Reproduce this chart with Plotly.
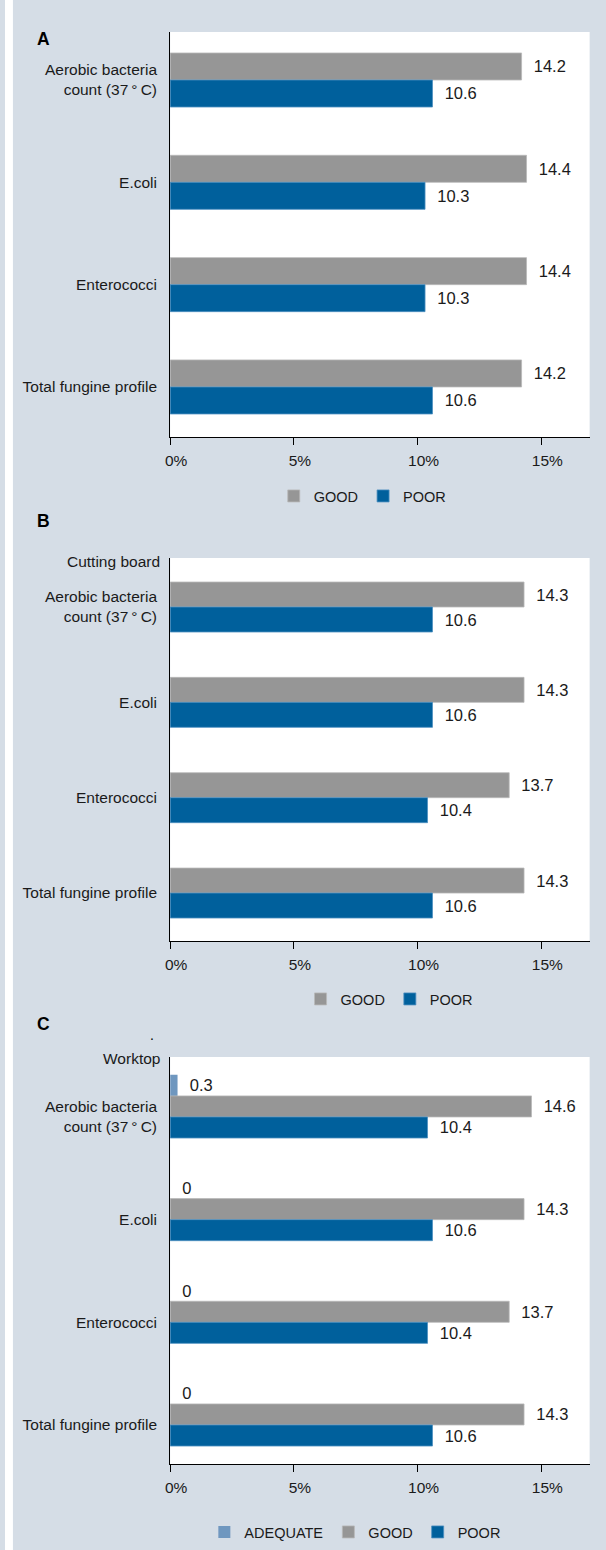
import plotly.graph_objects as go

# ---------------- data ----------------
categories = ["Aerobic bacteria<br>count (37\u2009°\u2009C)", "E.coli", "Enterococci", "Total fungine profile"]
panel_letters = ["A", "B", "C"]
panel_headers = ["", "Cutting board", "Worktop"]

a_good = [14.2, 14.4, 14.4, 14.2]
a_poor = [10.6, 10.3, 10.3, 10.6]

b_good = [14.3, 14.3, 13.7, 14.3]
b_poor = [10.6, 10.6, 10.4, 10.6]

c_adequate = [0.3, 0, 0, 0]
c_good = [14.6, 14.3, 13.7, 14.3]
c_poor = [10.4, 10.6, 10.4, 10.6]

tick_values = [0, 5, 10, 15]
tick_labels = ["0%", "5%", "10%", "15%"]

# ---------------- style ----------------
COLORS = {"ADEQUATE": "#6f97bf", "GOOD": "#969696", "POOR": "#00609c"}
EDGES = {"ADEQUATE": "#9dbad6", "GOOD": "#b9b9b9", "POOR": "#4d8fc0"}
EDGE_W = {"ADEQUATE": 0, "GOOD": 0.8, "POOR": 0.8}
BG = "#d5dde6"
TXT = "#1a1a1a"
FONT = "Liberation Sans, Arial, sans-serif"

W, H = 606, 1550


def fx(px):
    return px / W


def fy(py):
    return 1 - py / H


panels = [
    dict(series=[("GOOD", a_good), ("POOR", a_poor)], top=32, bottom=437,
         yrange=[3.489, -0.469], bw=0.264, leg_x=288, leg_y=496, letter_y=39, head_y=None),
    dict(series=[("GOOD", b_good), ("POOR", b_poor)], top=558, bottom=941,
         yrange=[3.503, -0.514], bw=0.262, leg_x=315, leg_y=999, letter_y=521, head_y=561),
    dict(series=[("ADEQUATE", c_adequate), ("GOOD", c_good), ("POOR", c_poor)], top=1057, bottom=1464,
         yrange=[3.38, -0.584], bw=0.205, leg_x=218, leg_y=1532, letter_y=1024, head_y=1058),
]

fig = go.Figure()
layout = dict(
    width=W, height=H,
    margin=dict(l=0, r=0, t=0, b=0),
    paper_bgcolor=BG, plot_bgcolor="white",
    barmode="overlay",
    font=dict(family=FONT, size=15, color=TXT),
    annotations=[],
    shapes=[dict(type="rect", xref="paper", yref="paper", x0=0, x1=fx(8), y0=0, y1=1,
                 fillcolor="white", line=dict(width=0), layer="below")],
)

for p_i, p in enumerate(panels):
    sfx = "" if p_i == 0 else str(p_i + 1)
    xa, ya = "x" + sfx, "y" + sfx
    leg = "legend" if p_i == 0 else "legend" + str(p_i + 1)
    n = len(p["series"])
    for s_i, (name, vals) in enumerate(p["series"]):
        fig.add_trace(go.Bar(
            y=categories, x=vals, orientation="h", name=name,
            xaxis=xa, yaxis=ya, legend=leg,
            marker=dict(color=COLORS[name], line=dict(color=EDGES[name], width=EDGE_W[name])),
            width=p["bw"], offset=(s_i - (n - 1)) * p["bw"],
            text=[f"{v:g}" for v in vals],
            texttemplate="\u00a0\u00a0%{text}", textposition="outside",
            outsidetextfont=dict(family=FONT, size=16.5, color=TXT),
            constraintext="none", cliponaxis=False, hoverinfo="skip",
        ))
    layout["xaxis" + sfx] = dict(
        domain=[fx(166.5), fx(589.5)], range=[0, 16.95], anchor=ya,
        tickmode="array", tickvals=tick_values, ticktext=tick_labels,
        ticks="outside", ticklen=7,
        tickcolor="black", tickwidth=1, showline=True, linecolor="black", linewidth=1,
        showgrid=False, zeroline=False, ticklabelshift=6, ticklabelstandoff=2,
        tickfont=dict(family=FONT, size=15.5, color=TXT), fixedrange=True,
    )
    layout["yaxis" + sfx] = dict(
        domain=[fy(p["bottom"]), fy(p["top"])], anchor=xa, type="category",
        categoryorder="array", categoryarray=categories, range=p["yrange"],
        showline=True, linecolor="black", linewidth=1, ticks="", showgrid=False,
        zeroline=False, ticklabelstandoff=9,
        tickfont=dict(family=FONT, size=15.5, color=TXT), fixedrange=True,
    )
    layout[leg] = dict(
        orientation="h", x=fx(p["leg_x"] - 17), xanchor="left",
        y=fy(p["leg_y"]), yanchor="middle", bgcolor="rgba(0,0,0,0)",
        font=dict(family=FONT, size=14.5, color=TXT), traceorder="normal",
        itemclick=False, itemdoubleclick=False,
    )
    layout["annotations"].append(dict(
        text="<b>" + panel_letters[p_i] + "</b>", xref="paper", yref="paper",
        x=fx(30), y=fy(p["letter_y"]), xanchor="left", yanchor="middle",
        showarrow=False, font=dict(family=FONT, size=17.5, color="black"),
    ))
    if p["head_y"] is not None:
        layout["annotations"].append(dict(
            text=panel_headers[p_i], xref="paper", yref="paper",
            x=fx(158), y=fy(p["head_y"]), xanchor="right", yanchor="middle",
            showarrow=False, font=dict(family=FONT, size=15.5, color=TXT),
        ))

layout["annotations"].append(dict(
    text=".", xref="paper", yref="paper", x=fx(148), y=fy(1035),
    xanchor="center", yanchor="middle", showarrow=False,
    font=dict(family=FONT, size=14, color="black"),
))

fig.update_layout(**layout)
fig.write_html("out.html", config={"displayModeBar": False, "staticPlot": True})
